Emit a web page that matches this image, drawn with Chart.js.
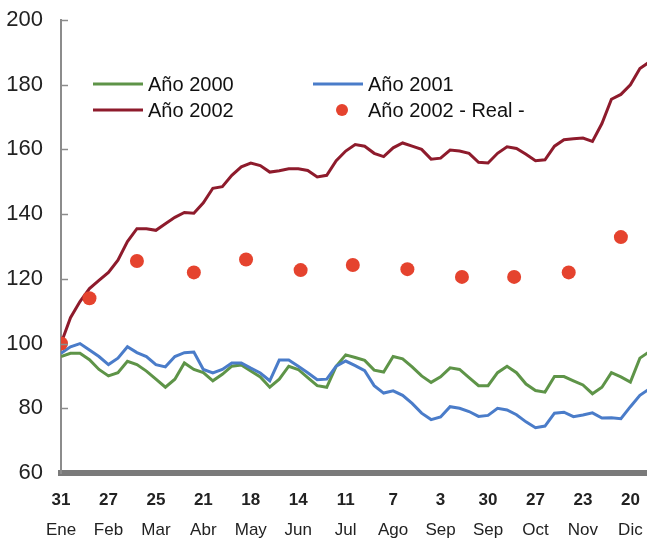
<!DOCTYPE html>
<html>
<head>
<meta charset="utf-8">
<script src="https://cdn.jsdelivr.net/npm/chart.js@4"></script>
<style>
  html, body { margin: 0; padding: 0; background: #fff; }
  #chart { display: block; }
</style>
</head>
<body>
<canvas id="chart" width="647" height="539"></canvas>
<script>
// etiquetas del eje x (cada 20 días hábiles desde el 31 de enero)
const dayLabels = ["31", "27", "25", "21", "18", "14", "11", "7", "3", "30", "27", "23", "20"];
const monthLabels = ["Ene", "Feb", "Mar", "Abr", "May", "Jun", "Jul", "Ago", "Sep", "Sep", "Oct", "Nov", "Dic"];

// series: un valor cada 4 días hábiles
const PASO = 4;
const serie2000 = [
  96, 97, 97, 95, 92, 90, 91, 94.5, 93.5, 91.5,
  89, 86.5, 89, 94, 92, 91, 88.5, 90.5, 93, 93.4,
  91.5, 89.7, 86.5, 89, 93, 92, 89.5, 87, 86.5, 93,
  96.5, 95.7, 94.8, 91.8, 91.2, 96, 95.3, 92.8, 90, 88,
  89.7, 92.5, 92, 89.5, 87, 87, 91, 93, 91, 87.5,
  85.5, 85, 89.8, 89.8, 88.5, 87.2, 84.5, 86.5, 91, 89.7,
  88.1, 95.5, 97.5,
];
const serie2001 = [
  97, 99, 100, 98, 96, 93.5, 95.5, 99, 97.2, 96,
  93.5, 92.8, 96, 97.2, 97.4, 92, 90.9, 92, 94, 94,
  92.4, 90.9, 88.5, 94.9, 94.9, 93, 91, 88.8, 89, 93,
  94.6, 93.2, 91.6, 87, 84.7, 85.4, 84, 81.5, 78.5, 76.5,
  77.3, 80.5, 80, 79, 77.5, 77.8, 80, 79.5, 78, 75.8,
  74, 74.5, 78.5, 78.8, 77.4, 77.9, 78.6, 77, 77.1, 76.8,
  80.5, 84, 86,
];
const serie2002 = [
  100, 108, 113, 117, 119.5, 122, 125.8, 131.5, 135.5, 135.5,
  135, 137, 139, 140.5, 140.3, 143.5, 148, 148.5, 152, 154.6,
  155.8, 155, 153, 153.4, 154, 154, 153.5, 151.5, 152, 156.5,
  159.5, 161.5, 161, 158.8, 157.8, 160.5, 162, 161, 160, 157,
  157.3, 159.8, 159.5, 158.8, 156, 155.8, 158.8, 160.8, 160.3, 158.5,
  156.5, 156.8, 161, 163, 163.3, 163.5, 162.5, 168, 175.5, 177,
  180, 185, 187,
];

// 2002 real (día hábil, valor)
const realDays = [0, 12, 32, 56, 78, 101, 123, 146, 169, 191, 214, 236];
const realValues = [100, 114, 125.5, 122, 126, 122.7, 124.3, 123, 120.6, 120.6, 122, 132.9];

const toPoints = (serie) => serie.map((v, i) => ({ x: i * PASO, y: v }));

const FONT = '"Liberation Sans", Arial, Helvetica, sans-serif';

// marcas cortas hacia dentro en el eje y
const yAxisMarks = {
  id: "yAxisMarks",
  afterDraw(chart) {
    const { ctx, chartArea } = chart;
    const y = chart.scales.y;
    ctx.save();
    ctx.strokeStyle = "#8c8c8c";
    ctx.lineWidth = 1.5;
    y.ticks.forEach((t) => {
      if (t.value === y.min) return;
      const py = Math.round(y.getPixelForValue(t.value)) + 0.5;
      ctx.beginPath();
      ctx.moveTo(chartArea.left, py);
      ctx.lineTo(chartArea.left + 7, py);
      ctx.stroke();
    });
    ctx.restore();
  },
};

// leyenda en dos columnas dentro del gráfico
const legendGrid = {
  id: "legendGrid",
  afterDraw(chart) {
    const { ctx } = chart;
    const slots = [
      { ds: 3, x: 93, y: 84 },
      { ds: 2, x: 313, y: 84 },
      { ds: 1, x: 93, y: 110 },
      { ds: 0, x: 313, y: 110 },
    ];
    ctx.save();
    ctx.font = "20px " + FONT;
    ctx.textBaseline = "middle";
    slots.forEach((s) => {
      const d = chart.data.datasets[s.ds];
      if (d.showLine === false) {
        ctx.fillStyle = d.backgroundColor;
        ctx.beginPath();
        ctx.arc(s.x + 29, s.y, 6, 0, Math.PI * 2);
        ctx.fill();
      } else {
        ctx.strokeStyle = d.borderColor;
        ctx.lineWidth = 3;
        ctx.beginPath();
        ctx.moveTo(s.x, s.y);
        ctx.lineTo(s.x + 50, s.y);
        ctx.stroke();
      }
      ctx.fillStyle = "#111";
      ctx.fillText(d.label, s.x + 55, s.y + 1);
    });
    ctx.restore();
  },
};

// etiqueta de fecha: índice del tick -> texto
const tickText = (labels) => (v) => {
  const i = v / 20;
  return Number.isInteger(i) && i < labels.length ? labels[i] : "";
};

new Chart(document.getElementById("chart"), {
  type: "line",
  data: {
    datasets: [
      {
        label: "Año 2002 - Real -",
        data: realDays.map((d, i) => ({ x: d, y: realValues[i] })),
        showLine: false,
        backgroundColor: "#e5432e",
        borderColor: "#e5432e",
        pointRadius: 7,
        pointBorderWidth: 0,
        order: 0,
      },
      {
        label: "Año 2002",
        data: toPoints(serie2002),
        borderColor: "#8e1b2c",
        borderWidth: 3,
        pointRadius: 0,
        tension: 0,
        order: 1,
      },
      {
        label: "Año 2001",
        data: toPoints(serie2001),
        borderColor: "#4a7cc9",
        borderWidth: 3,
        pointRadius: 0,
        tension: 0,
        order: 2,
      },
      {
        label: "Año 2000",
        data: toPoints(serie2000),
        borderColor: "#5e9448",
        borderWidth: 3,
        pointRadius: 0,
        tension: 0,
        order: 3,
      },
    ],
  },
  options: {
    responsive: false,
    animation: false,
    layout: { autoPadding: false, padding: { top: 20, right: 0, left: 0, bottom: 0 } },
    plugins: {
      legend: { display: false },
      tooltip: { enabled: false },
    },
    scales: {
      x: {
        type: "linear",
        min: 0,
        max: 247,
        weight: 0,
        grid: { display: false, drawTicks: false },
        border: { display: true, color: "#7a7a7a", width: 6, dash: [2, 1] },
        ticks: {
          stepSize: 20,
          includeBounds: false,
          autoSkip: false,
          maxRotation: 0,
          padding: 12,
          color: "#222",
          font: { family: FONT, size: 17, weight: "bold", lineHeight: 1.8 },
          callback: tickText(dayLabels),
        },
        afterFit(scale) {
          scale.height = 40;
          scale.paddingLeft = 0;
          scale.paddingRight = 0;
        },
      },
      // segunda fila: meses
      xMes: {
        type: "linear",
        position: "bottom",
        min: 0,
        max: 247,
        weight: 1,
        grid: { display: false, drawTicks: false },
        border: { display: false },
        ticks: {
          stepSize: 20,
          includeBounds: false,
          autoSkip: false,
          maxRotation: 0,
          padding: 7,
          color: "#222",
          font: { family: FONT, size: 17, lineHeight: 1.2 },
          callback: tickText(monthLabels),
        },
        afterFit(scale) {
          scale.height = 26;
          scale.paddingLeft = 0;
          scale.paddingRight = 0;
        },
      },
      y: {
        min: 60,
        max: 200,
        grid: { display: false, drawTicks: false },
        border: { display: true, color: "#8c8c8c", width: 2 },
        ticks: {
          stepSize: 20,
          padding: 18,
          color: "#222",
          font: { family: FONT, size: 22 },
        },
        afterFit(scale) {
          scale.width = 61;
          scale.paddingTop = 0;
          scale.paddingBottom = 0;
        },
      },
    },
  },
  plugins: [yAxisMarks, legendGrid],
});
</script>
</body>
</html>
